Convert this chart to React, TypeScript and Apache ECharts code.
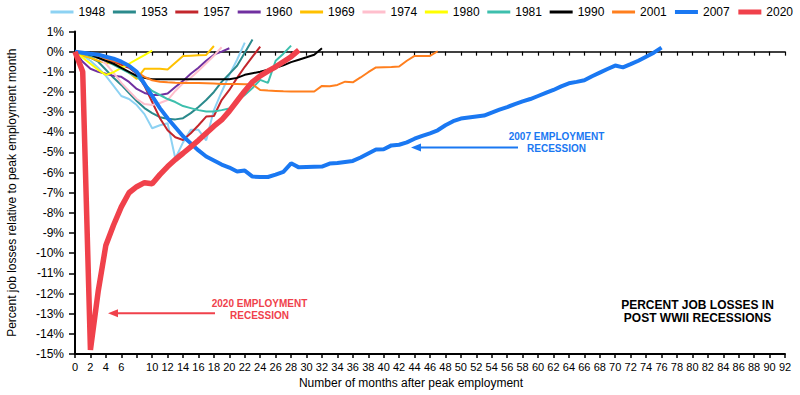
import { useEffect, useRef } from 'react';
import * as echarts from 'echarts';

const FONT = '"Liberation Sans", Arial, sans-serif';

const recessionYears = ['1948', '1953', '1957', '1960', '1969', '1974', '1980', '1981', '1990', '2001', '2007', '2020'];
const lineColors = ['#8dd2f3', '#2b8a8c', '#c3262c', '#7030a0', '#ffc000', '#ffbfcd', '#ffff00', '#3dbfad', '#000000', '#ff7f1e', '#1a78f2', '#f0414b'];
const lineWidths = [2, 2, 2, 2, 2, 2, 2, 2, 2, 2, 4, 5.5];
const legendWidths = [3, 3, 3, 3, 3, 3, 3, 3, 3, 3, 4, 5];

// Percent change vs. peak employment month, index = months after peak
const s1948 = [0, -0.2, -0.45, -0.8, -1.2, -1.7, -2.2, -2.35, -2.65, -3.1, -3.8, -3.65, -3.55, -5.3, -4.5, -3.88, -3.88, -4.4, -2.9, -2.0, -1.15, -0.4, 0.45];
const s1953 = [0, -0.15, -0.3, -0.5, -0.9, -1.3, -1.65, -2.05, -2.45, -2.8, -3.05, -3.25, -3.33, -3.36, -3.3, -3.05, -2.75, -2.4, -2.0, -1.5, -1.1, -0.7, -0.05, 0.6];
const s1957 = [0, -0.1, -0.2, -0.3, -0.4, -0.5, -0.65, -0.8, -1.1, -1.7, -2.5, -3.3, -3.9, -4.25, -4.38, -4.05, -3.65, -3.22, -3.19, -2.4, -1.9, -1.3, -0.75, -0.25, 0.25];
const s1960 = [0, -0.5, -0.85, -1.0, -1.1, -1.2, -1.25, -1.5, -1.85, -2.05, -2.15, -2.15, -2.08, -1.75, -1.45, -1.1, -0.8, -0.45, -0.15, 0.0, 0.17];
const s1969 = [0, -0.2, -0.3, -0.45, -0.55, -0.6, -0.75, -1.05, -1.35, -0.85, -0.85, -0.85, -0.88, -0.55, -0.22, -0.2, -0.18, -0.16, 0.28];
const s1974 = [0, -0.05, -0.15, -0.3, -0.6, -1.05, -1.55, -1.95, -2.35, -2.6, -2.65, -2.55, -2.4, -1.95, -1.57, -1.3, -0.95, -0.58, -0.2, 0.22];
const s1980 = [0, -0.3, -0.6, -0.9, -1.15, -1.02, -0.8, -0.6, -0.38, -0.17, 0.05];
const s1981 = [0, -0.1, -0.2, -0.3, -0.45, -0.65, -0.85, -1.05, -1.25, -1.6, -1.95, -2.15, -2.35, -2.5, -2.7, -2.8, -2.9, -2.97, -2.97, -2.9, -2.82, -2.45, -2.15, -1.8, -1.4, -1.55, -0.45, -0.1, 0.3];
const s1990 = [0, -0.05, -0.15, -0.3, -0.45, -0.6, -0.8, -1.0, -1.2, -1.3, -1.37, -1.37, -1.37, -1.37, -1.37, -1.37, -1.37, -1.37, -1.37, -1.37, -1.37, -1.3, -1.15, -1.07, -1.0, -0.9, -0.8, -0.68, -0.52, -0.4, -0.28, -0.15, 0.17];
const s2001 = [0, -0.05, -0.1, -0.2, -0.35, -0.45, -0.55, -0.75, -1.0, -1.25, -1.42, -1.49, -1.52, -1.54, -1.55, -1.55, -1.56, -1.57, -1.58, -1.6, -1.6, -1.61, -1.62, -1.62, -1.9, -1.93, -1.95, -1.97, -1.98, -1.98, -1.98, -1.98, -1.7, -1.72, -1.65, -1.49, -1.52, -1.28, -1.02, -0.78, -0.77, -0.76, -0.74, -0.45, -0.21, -0.21, -0.21, 0.02];
const s2007 = [0, -0.05, -0.1, -0.15, -0.25, -0.35, -0.5, -0.7, -1.0, -1.6, -2.2, -2.8, -3.3, -3.75, -4.2, -4.55, -4.9, -5.2, -5.4, -5.6, -5.75, -5.95, -5.9, -6.2, -6.22, -6.22, -6.1, -5.96, -5.54, -5.74, -5.72, -5.71, -5.7, -5.55, -5.52, -5.47, -5.42, -5.25, -5.05, -4.85, -4.84, -4.65, -4.62, -4.5, -4.32, -4.18, -4.05, -3.9, -3.65, -3.45, -3.32, -3.27, -3.22, -3.17, -3.02, -2.88, -2.75, -2.6, -2.47, -2.35, -2.2, -2.05, -1.9, -1.72, -1.57, -1.5, -1.42, -1.22, -1.04, -0.86, -0.69, -0.78, -0.62, -0.45, -0.25, -0.05, 0.2];
const s2020 = [0, -1.0, -14.8, -11.9, -9.6, -8.6, -7.7, -7.0, -6.7, -6.5, -6.55, -6.1, -5.7, -5.35, -5.04, -4.72, -4.4, -4.05, -3.7, -3.39, -2.95, -2.45, -1.95, -1.5, -1.2, -0.97, -0.75, -0.5, -0.25, 0.08];

const seriesValues = [s1948, s1953, s1957, s1960, s1969, s1974, s1980, s1981, s1990, s2001, s2007, s2020];

const xMin = 0;
const xMax = 92;
const xStep = 2;
const hiddenXLabels = [8];
const yMin = -15;
const yMax = 1;
const yStep = 1;

export default function App() {
  const ref = useRef<HTMLDivElement>(null);

  useEffect(() => {
    if (!ref.current) return;
    const chart = echarts.init(ref.current, null, { renderer: 'svg' });

    const series = recessionYears.map((name, k) => ({
      name,
      type: 'line',
      xAxisIndex: 0,
      yAxisIndex: 0,
      data: seriesValues[k].map((v, i) => [i, v]),
      symbol: 'none',
      showSymbol: false,
      lineStyle: { color: lineColors[k], width: lineWidths[k] },
      itemStyle: { color: lineColors[k] },
      z: 2 + k,
    }));

    const blue = '#1a78f2';
    const red = '#f0414b';
    const center = { align: 'center', verticalAlign: 'middle', textAlign: 'center', textVerticalAlign: 'middle' };

    chart.setOption({
      animation: false,
      textStyle: { fontFamily: FONT },
      grid: { left: 75, right: 15, top: 31.5, bottom: 41, containLabel: false, outerBoundsMode: 'none' },
      legend: {
        left: 49,
        top: 6,
        itemWidth: 23,
        itemHeight: 12,
        itemGap: 6.2,
        padding: 0,
        textStyle: { fontSize: 12, color: '#000', fontFamily: FONT },
        itemStyle: { color: 'transparent', borderColor: 'transparent', borderWidth: 0, opacity: 0 },
        data: recessionYears.map((name, k) => ({
          name,
          itemStyle: { color: 'transparent', borderColor: 'transparent', borderWidth: 0, opacity: 0 },
          lineStyle: { color: lineColors[k], width: legendWidths[k], opacity: 1 },
        })),
      },
      xAxis: [
        {
          type: 'value',
          min: xMin,
          max: xMax,
          interval: xStep,
          position: 'bottom',
          axisLine: { onZero: false, lineStyle: { color: '#000', width: 2 } },
          axisTick: { show: true, length: 4, lineStyle: { color: '#000', width: 1.5 } },
          axisLabel: {
            fontSize: 11,
            color: '#000',
            margin: 7,
            fontFamily: FONT,
            formatter: (v: number) => (hiddenXLabels.includes(v) ? '' : String(v)),
          },
          splitLine: { show: false },
        },
        {
          type: 'value',
          min: xMin,
          max: xMax,
          interval: xStep,
          position: 'bottom',
          axisLine: { onZero: true, lineStyle: { color: '#000', width: 1.5 } },
          axisTick: { show: true, length: 4, lineStyle: { color: '#000', width: 1.2 } },
          axisLabel: { show: false },
          splitLine: { show: false },
        },
      ],
      yAxis: {
        type: 'value',
        min: yMin,
        max: yMax,
        interval: yStep,
        name: 'Percent job losses relative to peak employment month',
        nameLocation: 'middle',
        nameGap: 57,
        nameTextStyle: { fontSize: 12, color: '#000', fontFamily: FONT },
        axisLine: { show: true, lineStyle: { color: '#000', width: 2 } },
        axisTick: { show: true, length: 6, lineStyle: { color: '#000', width: 1.5 } },
        axisLabel: { fontSize: 12, color: '#000', margin: 11, fontFamily: FONT, formatter: (v: number) => `${v}%` },
        splitLine: { show: false },
      },
      graphic: [
        {
          type: 'text',
          x: 411,
          y: 383,
          style: { text: 'Number of months after peak employment', font: `12px ${FONT}`, fill: '#000', ...center },
        },
        {
          type: 'text',
          x: 556.5,
          y: 142.5,
          style: { text: '2007 EMPLOYMENT\nRECESSION', font: `bold 10px ${FONT}`, lineHeight: 11.6, fill: blue, ...center },
        },
        { type: 'line', shape: { x1: 419, y1: 147.5, x2: 518, y2: 147.5 }, style: { stroke: blue, lineWidth: 2 } },
        { type: 'polygon', shape: { points: [[411, 147.5], [421, 143.5], [421, 151.5]] }, style: { fill: blue } },
        {
          type: 'text',
          x: 259.5,
          y: 309.5,
          style: { text: '2020 EMPLOYMENT\nRECESSION', font: `bold 10px ${FONT}`, lineHeight: 12.2, fill: red, ...center },
        },
        { type: 'line', shape: { x1: 116, y1: 313.3, x2: 215, y2: 313.3 }, style: { stroke: red, lineWidth: 2 } },
        { type: 'polygon', shape: { points: [[108, 313.3], [118, 309.3], [118, 317.3]] }, style: { fill: red } },
        {
          type: 'text',
          x: 697.5,
          y: 311.5,
          style: { text: 'PERCENT JOB LOSSES IN\nPOST WWII RECESSIONS', font: `bold 12px ${FONT}`, lineHeight: 12.5, fill: '#000', ...center },
        },
      ],
      series,
    });

    return () => chart.dispose();
  }, []);

  return <div ref={ref} style={{ position: 'absolute', left: 0, top: 0, width: 800, height: 395 }} />;
}
